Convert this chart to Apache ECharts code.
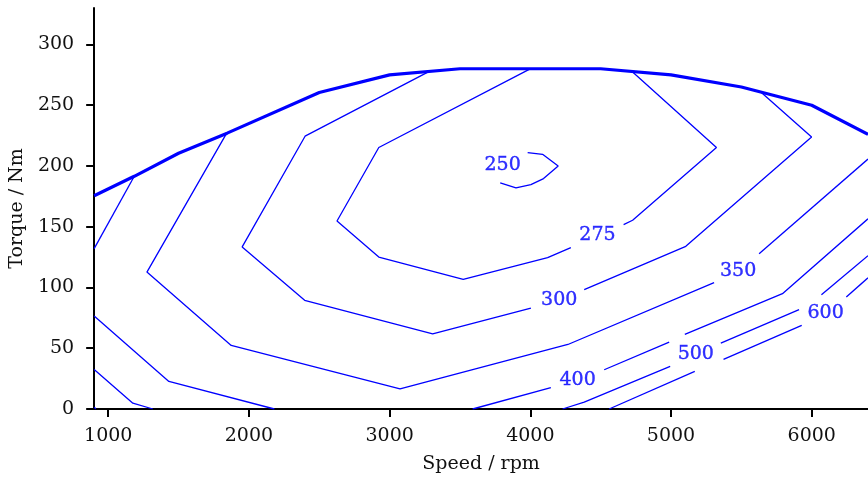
<!DOCTYPE html>
<html>
<head>
<meta charset="utf-8">
<script src="https://cdn.jsdelivr.net/npm/echarts@6/dist/echarts.min.js"></script>
<style>
  html, body { margin: 0; padding: 0; background: #ffffff; }
  #chart { width: 868px; height: 483px; }
</style>
</head>
<body>
<div id="chart"></div>
<script>
// Axis ticks
const xTicks = [1000, 2000, 3000, 4000, 5000, 6000];
const yTicks = [0, 50, 100, 150, 200, 250, 300];

// Full-load torque curve [rpm, Nm]
const fullLoad = [
  [900, 175.5], [1185, 191.5], [1500, 210.5], [1845, 227], [2500, 260.5],
  [3000, 275], [3500, 280], [4500, 280], [5000, 275], [5500, 265],
  [6000, 250], [6400, 226]
];

// Contour levels and their polylines (each level: list of visible segments, [rpm, Nm])
const levels = [250, 275, 300, 350, 400, 500, 600];

const iso250 = [
  [[3981, 211.0], [4087, 209.6], [4198, 200], [4094, 189.6], [4004, 184.7], [3898, 181.9], [3786, 186]]
];
const iso275 = [
  [[3992, 279.5], [2923, 215.2], [2626, 154.7], [2923, 125.0], [3523, 106.7], [4123, 124.5], [4288, 132.8]],
  [[4663, 151.7], [4727, 155.3], [5323, 215.2], [4727, 277.3]]
];
const iso300 = [
  [[3282, 277.8], [2399, 224.5], [1952, 133.4], [2396, 89.4], [3306, 61.9], [4004, 83.0]],
  [[4383, 98.2], [5105, 133.9], [5999, 223.9], [5638, 260.8]]
];
const iso350 = [
  [[1843, 227.2], [1275, 112.7], [1874, 52.3], [3074, 16.6], [4267, 53.1], [5306, 104.0]],
  [[5626, 127.8], [6400, 205.7]]
];
const iso400 = [
  [[1185, 191.5], [900, 132]],
  [[900, 76.5], [1431, 22.7], [2181, 0]],
  [[3590, 0], [4146, 17.5]],
  [[4525, 32.3], [4987, 55.0]],
  [[5098, 61.4], [5792, 94.9], [6400, 156.5]]
];
const iso500 = [
  [[900, 32.5], [1175, 4.8], [1317, 0]],
  [[4229, 0], [4383, 5.6], [4994, 35.0]],
  [[5354, 54.2], [5910, 81.7]],
  [[6069, 94.1], [6400, 126.2]]
];
const iso600 = [
  [[900, 1.5], [912, 0]],
  [[4560, 0], [5169, 30.9]],
  [[5373, 40.8], [5929, 68.8]],
  [[6246, 92.1], [6400, 108.0]]
];
const isoLines = [iso250, iso275, iso300, iso350, iso400, iso500, iso600];

// Where each level's number sits [rpm, Nm]
const labelPos = [
  [3803, 200.6], [4477, 142.8], [4205, 89.4], [5477, 113.5],
  [4336, 24.1], [5176, 45.5], [6099, 78.9]
];

const BLUE = '#0000ff';
const FONT = 'DejaVu Serif';
const FS = 19;
const INK = '#111111';

const series = [];
isoLines.forEach((segs, i) => {
  segs.forEach(seg => {
    series.push({
      type: 'line',
      name: String(levels[i]),
      data: seg,
      showSymbol: false,
      symbol: 'none',
      silent: true,
      lineStyle: { color: BLUE, width: 1.3 },
      z: 2
    });
  });
});

series.push({
  type: 'line',
  name: 'full load',
  data: fullLoad,
  showSymbol: false,
  symbol: 'none',
  silent: true,
  lineStyle: { color: BLUE, width: 3.2 },
  z: 3
});

series.push({
  type: 'scatter',
  data: labelPos.map((p, i) => [p[0], p[1], levels[i]]),
  symbolSize: 0,
  silent: true,
  z: 4,
  label: {
    show: true,
    position: [0, 0],
    align: 'center',
    verticalAlign: 'middle',
    formatter: p => String(p.value[2]),
    color: BLUE,
    textBorderColor: BLUE,
    textBorderWidth: 0.4,
    fontFamily: FONT,
    fontSize: FS
  }
});

const chart = echarts.init(document.getElementById('chart'), null, { renderer: 'canvas' });
chart.setOption({
  animation: false,
  backgroundColor: '#ffffff',
  grid: { left: 93, right: 0, top: 8, bottom: 74, containLabel: false },
  xAxis: {
    type: 'value',
    min: 900,
    max: 6400,
    name: 'Speed / rpm',
    nameLocation: 'middle',
    nameGap: 46,
    nameTextStyle: { fontFamily: FONT, fontSize: FS, color: INK },
    axisLine: { show: true, lineStyle: { color: '#000', width: 2 } },
    axisTick: { show: true, length: 8, customValues: xTicks, lineStyle: { color: '#000', width: 2 } },
    axisLabel: {
      customValues: xTicks, margin: 18, fontFamily: FONT, fontSize: FS, color: INK,
      formatter: v => String(v)
    },
    splitLine: { show: false }
  },
  yAxis: {
    type: 'value',
    min: 0,
    max: 330,
    name: 'Torque / Nm',
    nameLocation: 'middle',
    nameGap: 66,
    nameTextStyle: { fontFamily: FONT, fontSize: FS, color: INK },
    axisLine: { show: true, lineStyle: { color: '#000', width: 2 } },
    axisTick: { show: true, length: 8, customValues: yTicks, lineStyle: { color: '#000', width: 2 } },
    axisLabel: {
      customValues: yTicks, margin: 20, fontFamily: FONT, fontSize: FS, color: INK,
      formatter: v => String(v)
    },
    splitLine: { show: false }
  },
  series: series
});
</script>
</body>
</html>
